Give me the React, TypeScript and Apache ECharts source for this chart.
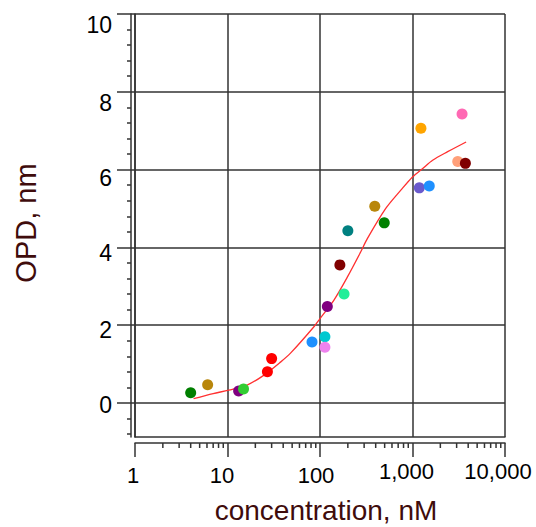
import React, { useEffect, useRef } from 'react';
import * as echarts from 'echarts';

// Measured points: concentration (nM) and OPD (nm)
const concentration = [4.0, 6.1, 13.2, 14.9, 27, 30, 82, 113, 113, 120, 182, 164, 200, 391, 495, 1185, 1518, 1233, 3434, 3083, 3730];
const opd = [0.26, 0.47, 0.31, 0.36, 0.8, 1.14, 1.57, 1.7, 1.43, 2.48, 2.8, 3.55, 4.43, 5.06, 4.63, 5.53, 5.58, 7.06, 7.43, 6.21, 6.16];
const pointColors = [
  '#007f00', '#b8860b', '#800080', '#32cd32', '#ff0000', '#ff0000', '#1e90ff', '#00c8d0', '#ee82ee', '#800080',
  '#22ee99', '#800000', '#008080', '#b8860b', '#008000', '#6a5acd', '#1e90ff', '#ffa500', '#ff69b4', '#ffa07a', '#800000',
];

// Fitted curve
const fitConcentration = [4.3, 7, 10.3, 16.3, 24.6, 37.4, 48, 86, 100, 141, 198, 275, 326, 514, 748, 1000, 1290, 1650, 2400, 3800];
const fitOpd = [0.11, 0.24, 0.33, 0.46, 0.71, 1.05, 1.28, 1.96, 2.17, 2.64, 3.24, 3.88, 4.23, 5.0, 5.47, 5.81, 6.03, 6.24, 6.46, 6.71];

// Axis ticks
const xTickLabels = [1, 10, 100, 1000, 10000];
const xMinorTicks = [2, 3, 4, 5, 6, 7, 8, 9, 20, 30, 40, 50, 60, 70, 80, 90, 200, 300, 400, 500, 600, 700, 800, 900, 2000, 3000, 4000, 5000, 6000, 7000, 8000, 9000];
const yMajorTicks = [0, 2, 4, 6, 8, 10];
const yMinorTicks = [-0.8, -0.4, 0.4, 0.8, 1.2, 1.6, 2.4, 2.8, 3.2, 3.6, 4.4, 4.8, 5.2, 5.6, 6.4, 6.8, 7.2, 7.6, 8.4, 8.8, 9.2, 9.6];
const Y_MIN = -0.875;
const Y_MAX = 10;

const xTitle = 'concentration, nM';
const yTitle = 'OPD, nm';

export default function App() {
  const ref = useRef<HTMLDivElement>(null);

  useEffect(() => {
    const chart = echarts.init(ref.current!, null, { renderer: 'svg' });
    const font = '"Liberation Sans", Arial, sans-serif';
    const axisColor = '#333333';
    const titleColor = '#3f0c0c';

    const xShift: Record<number, [number, number]> = { 1: [4, 4], 10: [4, 11], 100: [4, 8], 1000: [0, 12], 10000: [0, 14] };
    const xRich: Record<string, any> = {};
    xTickLabels.forEach((v) => {
      xRich['x' + v] = { fontSize: 22, fontFamily: font, color: '#000', padding: [xShift[v][0], xShift[v][1], 0, 0] };
    });
    const yShift: Record<number, number> = { 0: 2, 2: 5, 4: 6, 6: 8.5, 8: 11, 10: 11 };
    const yRich: Record<string, any> = {};
    yMajorTicks.forEach((v) => {
      yRich['y' + v] = { fontSize: 23, fontFamily: font, color: '#000', padding: [2 * yShift[v], 0, 0, 0] };
    });

    chart.setOption({
      animation: false,
      backgroundColor: '#ffffff',
      grid: { left: 135, right: 31, top: 14, bottom: 90, containLabel: false },
      xAxis: [
        {
          type: 'log',
          logBase: 10,
          min: 1,
          max: 10000,
          position: 'bottom',
          axisLine: { show: true, onZero: false, lineStyle: { color: axisColor, width: 1.5 } },
          axisTick: { show: false },
          axisLabel: { show: false },
          splitLine: { show: true, lineStyle: { color: axisColor, width: 1.5 } },
        },
        {
          type: 'log',
          logBase: 10,
          min: 1,
          max: 10000,
          position: 'bottom',
          offset: 6,
          axisLine: { show: true, onZero: false, lineStyle: { color: axisColor, width: 1.5 } },
          axisTick: { show: true, inside: false, length: 14, lineStyle: { color: axisColor, width: 1.5 } },
          axisLabel: {
            show: true,
            margin: 17,
            formatter: (v: number) => {
              const r = Math.round(v);
              return `{x${r}|${r.toLocaleString('en-US')}}`;
            },
            rich: xRich,
          },
          splitLine: { show: false },
        },
      ],
      yAxis: [
        {
          type: 'value',
          min: Y_MIN,
          max: Y_MAX,
          position: 'left',
          axisLine: { show: true, onZero: false, lineStyle: { color: axisColor, width: 1.5 } },
          axisTick: { show: true, inside: false, length: 18, customValues: yMajorTicks, lineStyle: { color: axisColor, width: 1.5 } },
          axisLabel: {
            show: true,
            margin: 23,
            customValues: yMajorTicks,
            formatter: (v: number) => (v < -0.5 ? '' : `{y${v}|${v}}`),
            rich: yRich,
          },
          splitLine: { show: true, lineStyle: { color: axisColor, width: 1.5 } },
        },
        {
          type: 'value',
          min: Y_MIN,
          max: Y_MAX,
          position: 'left',
          offset: 4,
          axisLine: { show: true, onZero: false, lineStyle: { color: axisColor, width: 1.5 } },
          axisTick: { show: true, inside: false, length: 4, customValues: yMinorTicks, lineStyle: { color: axisColor, width: 1.5 } },
          axisLabel: { show: false },
          splitLine: { show: false },
        },
      ],
      graphic: [
        {
          type: 'text',
          x: 326,
          y: 510,
          style: { text: xTitle, font: `28px ${font}`, fill: titleColor, textAlign: 'center', textVerticalAlign: 'middle' },
        },
        {
          type: 'text',
          x: 26,
          y: 223,
          rotation: Math.PI / 2,
          style: { text: yTitle, font: `29px ${font}`, fill: titleColor, textAlign: 'center', textVerticalAlign: 'middle' },
        },
      ],
      series: [
        {
          type: 'custom',
          xAxisIndex: 0,
          yAxisIndex: 0,
          clip: false,
          silent: true,
          data: xMinorTicks.map((v) => [v, Y_MIN]),
          renderItem: (params: any, api: any) => {
            const p = api.coord([api.value(0), Y_MIN]);
            return {
              type: 'line',
              shape: { x1: p[0], y1: p[1] + 6, x2: p[0], y2: p[1] + 11 },
              style: { stroke: axisColor, lineWidth: 1.5 },
            };
          },
        },
        {
          type: 'line',
          xAxisIndex: 0,
          yAxisIndex: 0,
          data: fitConcentration.map((c, i) => [c, fitOpd[i]]),
          smooth: 0.3,
          symbol: 'none',
          lineStyle: { color: '#ff3030', width: 1.3 },
          z: 3,
        },
        {
          type: 'scatter',
          xAxisIndex: 0,
          yAxisIndex: 0,
          symbol: 'circle',
          symbolSize: 11,
          itemStyle: { opacity: 1 },
          data: concentration.map((c, i) => ({ value: [c, opd[i]], itemStyle: { color: pointColors[i], opacity: 1 } })),
          z: 4,
        },
      ],
    });

    return () => chart.dispose();
  }, []);

  return <div ref={ref} style={{ position: 'fixed', left: 0, top: 0, width: 536, height: 527, background: '#fff' }} />;
}
